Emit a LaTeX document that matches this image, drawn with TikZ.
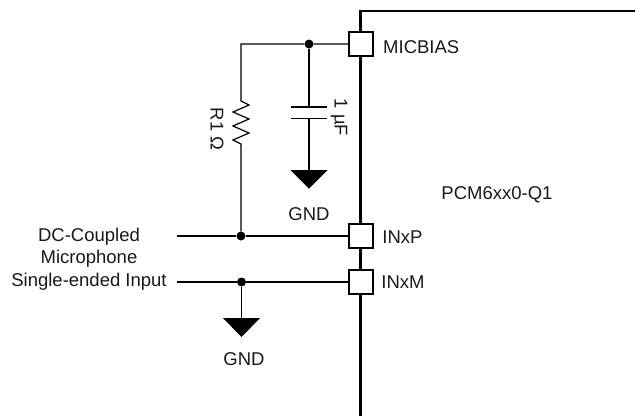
\documentclass[tikz,border=0pt]{standalone}
\usepackage{fontspec}
\setmainfont{Liberation Sans}
\begin{document}
\begin{tikzpicture}[x=1pt,y=-1pt,
  wire/.style={line width=1.2pt,black},
  chip/.style={line width=2.2pt,black},
  pinbox/.style={draw=black,line width=1.2pt,fill=white,minimum size=24pt,inner sep=0pt,outer sep=0pt},
  jdot/.style={circle,fill=black,minimum size=9pt,inner sep=0pt},
  gnd/.style={fill=black,draw=none},
  lbl/.style={font=\fontsize{18.5}{20}\selectfont,inner sep=0pt,text=black!90}]
\useasboundingbox (0,0) rectangle (635,416);
\coordinate (cTL) at (360.5,11);
\coordinate (cTR) at (635,11);
\coordinate (cB) at (360.5,416);
\draw[chip] (cTR) -- (cTL) -- (cB);
\node[pinbox] (pm) at (361,44) {};
\node[pinbox] (pp) at (361,236) {};
\node[pinbox] (pn) at (361,282) {};
\node[lbl,anchor=west] (lm) at (383,47.5) {MICBIAS};
\node[lbl] (lp) at (402.5,237) {INxP};
\node[lbl] (ln) at (403,282) {INxM};
\node[lbl] (chipname) at (497,194.5) {PCM6xx0-Q1};
\coordinate (tl) at (241,44);
\node[jdot] (jt) at (309,44) {};
\node[jdot] (jp) at (241,236) {};
\node[jdot] (jn) at (241.5,282) {};
\coordinate (inp) at (177,236);
\coordinate (inn) at (177,282);
\draw[wire] (pm.west) -- (jt) -- (tl) -- (241,101)
  -- (249,105) -- (233,112) -- (249,119) -- (233,126) -- (249,133) -- (233,140) -- (241,144)
  -- (jp);
\draw[wire] (inp) -- (jp) -- (pp.west);
\draw[wire] (inn) -- (jn) -- (pn.west);
\coordinate (c1) at (309,107);
\coordinate (c2) at (309,118.5);
\coordinate (g1) at (309,170);
\draw[wire] (jt) -- (c1);
\draw[wire] (291,107) -- (327,107);
\draw[wire] (291,118.5) -- (327,118.5);
\draw[wire] (c2) -- (g1);
\fill[gnd] (290.5,170) -- (327.5,170) -- (309,188.5) -- cycle;
\node[lbl] (g1t) at (309,214.5) {GND};
\coordinate (g2) at (241.5,318);
\draw[wire] (jn) -- (g2);
\fill[gnd] (223,318) -- (260,318) -- (241.5,337) -- cycle;
\node[lbl] (g2t) at (244,359.5) {GND};
\node[lbl,rotate=-90] (r1) at (217,129) {R1 Ω};
\node[lbl,rotate=-90] (cv) at (339,117.5) {1 µF};
\node[lbl] (t1) at (89,237.2) {DC-Coupled};
\node[lbl] (t2) at (89,259.2) {Microphone};
\node[lbl] (t3) at (89,281.3) {Single-ended Input};
\end{tikzpicture}
\end{document}
